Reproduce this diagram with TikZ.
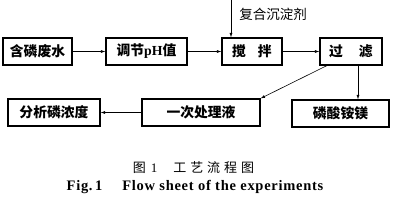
\documentclass[tikz,border=0pt]{standalone}
\usepackage{fontspec}
\setmainfont{Liberation Serif}
\newfontfamily\cjk{Noto Sans CJK SC}
\newfontfamily\cjkcap[LetterSpace=30]{Noto Sans CJK SC}
\newfontfamily\capfont[LetterSpace=5]{Liberation Serif}
\usetikzlibrary{arrows.meta}
\begin{document}
\begin{tikzpicture}[x=1pt,y=-1pt,
  box/.style={draw,line width=1.1pt,inner sep=0pt,minimum height=27pt,
    font=\cjk\bfseries\fontsize{13.8}{14}\selectfont},
  arr/.style={-{Latex[length=4.5pt,width=3pt]},line width=0.6pt}]
\useasboundingbox (0,0) rectangle (393,203);
\node[box,minimum width=69pt] (water) at (37.5,51.5) {含磷废水};
\node[box,minimum width=81pt] (ph) at (146.5,51.5) {调节{\rmfamily pH}值};
\node[box,minimum width=60pt] (stir) at (252,51.5) {搅\hspace{12pt}拌};
\node[box,minimum width=62pt] (filter) at (351,51.5) {过\hspace{16pt}滤};
\node[box,minimum width=97pt] (mgnh4) at (340.5,113.5) {磷酸铵镁};
\node[box,minimum width=118pt] (first) at (201,112.5) {一次处理液};
\node[box,minimum width=92pt] (analyse) at (54,112.5) {分析磷浓度};
\coordinate (top) at (231,0);
\node[font=\cjk\fontsize{13.5}{14}\selectfont] (agent) at (273,14) {复合沉淀剂};
\draw[arr] (water) -- (ph);
\draw[arr] (ph) -- (stir);
\draw[arr] (stir) -- (filter);
\draw[arr] (top) -- (top |- stir.north);
\draw[arr] ([xshift=-24pt]filter.south) -- (first.north east);
\draw[arr] ([xshift=7pt]filter.south) -- ([xshift=7pt]filter.south |- mgnh4.north);
\draw[arr] (first) -- (analyse);
\node[font=\cjkcap\fontsize{13}{14}\selectfont] (capcn) at (193.5,168) {图\hspace{5pt}{\rmfamily 1}\hspace{16pt}工艺流程图};
\node[font=\capfont\bfseries\fontsize{14.5}{15}\selectfont] (capen) at (195,187) {Fig.\,1\hspace{20pt}Flow sheet of the experiments};
\end{tikzpicture}
\end{document}
